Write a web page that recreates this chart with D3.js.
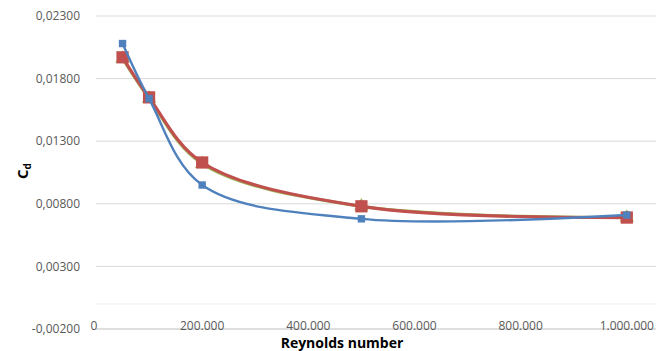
<!DOCTYPE html>
<html>
<head>
<meta charset="utf-8">
<script src="https://cdn.jsdelivr.net/npm/d3@7"></script>
<style>
  body { margin: 0; background: #fff; }
  svg { display: block; font-family: "Open Sans", "Liberation Sans", sans-serif; }
</style>
</head>
<body>
<svg id="chart" width="672" height="351"></svg>
<script>
// Reynolds numbers (x) and drag coefficients per series
const reynolds = [50000, 100000, 200000, 500000, 1000000]
const cdBlue = [0.0208, 0.0164, 0.0095, 0.0068, 0.0071]
const cdRed = [0.0197, 0.0165, 0.0113, 0.0078, 0.0069]
const cdGreen = [0.0196, 0.0164, 0.0112, 0.0078, 0.0069]
const yTicks = [-0.002, 0.003, 0.008, 0.013, 0.018, 0.023]
const xTicks = [0, 200000, 400000, 600000, 800000, 1000000]

const svg = d3.select('#chart')

const x = d3.scaleLinear().domain([0, 1055000]).range([96, 656])
const y = d3.scaleLinear().domain([-0.002, 0.023]).range([329, 16])

const fmtY = v => d3.format('.5f')(v).replace('.', ',').replace('−', '-')
const fmtX = v => (v === 0 ? '0' : d3.format(',')(v).replace(/,/g, '.'))

// gridlines
svg.append('g')
  .selectAll('line')
  .data(yTicks.slice(1))
  .enter()
  .append('line')
  .attr('x1', x.range()[0])
  .attr('x2', x.range()[1])
  .attr('y1', d => y(d))
  .attr('y2', d => y(d))
  .attr('stroke', '#d9d9d9')
  .attr('stroke-width', 1)

// faint zero line
svg.append('line')
  .attr('x1', x.range()[0]).attr('x2', x.range()[1])
  .attr('y1', y(0)).attr('y2', y(0))
  .attr('stroke', '#f0f0f0')

// bottom axis line
svg.append('line')
  .attr('x1', x.range()[0]).attr('x2', x.range()[1])
  .attr('y1', y(-0.002)).attr('y2', y(-0.002))
  .attr('stroke', '#bfbfbf')

// y tick labels
svg.append('g')
  .selectAll('text')
  .data(yTicks)
  .enter()
  .append('text')
  .attr('x', 80)
  .attr('y', d => y(d))
  .attr('dy', '0.35em')
  .attr('text-anchor', 'end')
  .attr('fill', '#595959')
  .attr('font-size', 12)
  .text(fmtY)

// x tick labels
svg.append('g')
  .selectAll('text')
  .data(xTicks)
  .enter()
  .append('text')
  .attr('x', d => x(d) - (d === 0 ? 2 : 0))
  .attr('y', 326)
  .attr('dy', '0.35em')
  .attr('text-anchor', 'middle')
  .attr('fill', '#595959')
  .attr('font-size', 12)
  .text(fmtX)

// axis titles
svg.append('text')
  .attr('x', 342)
  .attr('y', 348)
  .attr('text-anchor', 'middle')
  .attr('font-size', 14)
  .attr('font-weight', 'bold')
  .attr('fill', '#000')
  .text('Reynolds number')

const cd = svg.append('text')
  .attr('transform', 'translate(28,171) rotate(-90)')
  .attr('text-anchor', 'middle')
  .attr('font-size', 15)
  .attr('font-weight', 'bold')
  .attr('fill', '#000')
cd.append('tspan').text('C')
cd.append('tspan').attr('font-size', 10).attr('dy', 3).text('d')

const line = d3.line()
  .x((d, i) => x(reynolds[i]))
  .y(d => y(d))
  .curve(d3.curveCatmullRom.alpha(0.5))

const series = [
  { values: cdGreen, color: '#9bbb59', width: 3, marker: d3.symbolTriangle, size: 90 },
  { values: cdRed, color: '#c0504d', width: 3.2, marker: d3.symbolSquare, size: 150 },
  { values: cdBlue, color: '#4f81bd', width: 2.4, marker: d3.symbolSquare, size: 55 }
]

series.forEach(s => {
  const g = svg.append('g')
  g.append('path')
    .attr('d', line(s.values))
    .attr('fill', 'none')
    .attr('stroke', s.color)
    .attr('stroke-width', s.width)
    .attr('stroke-linejoin', 'round')
  g.selectAll('path.m')
    .data(s.values)
    .enter()
    .append('path')
    .attr('class', 'm')
    .attr('transform', (d, i) => `translate(${x(reynolds[i])},${y(d)})`)
    .attr('d', d3.symbol().type(s.marker).size(s.size))
    .attr('fill', s.color)
})
</script>
</body>
</html>
